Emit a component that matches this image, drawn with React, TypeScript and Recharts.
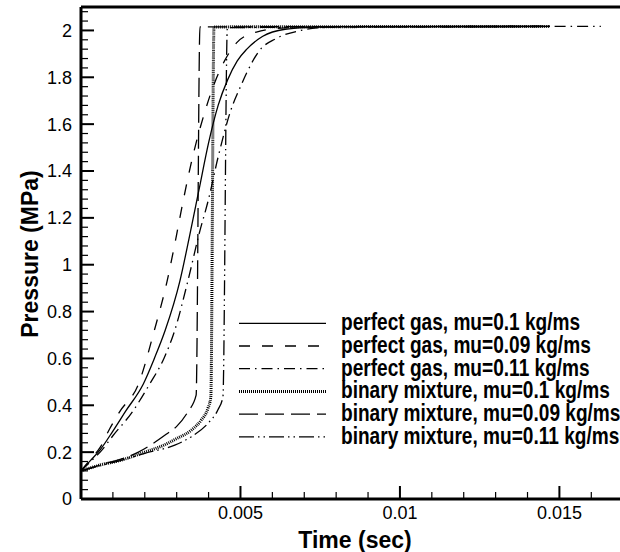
import React from 'react';
import { LineChart, Line, XAxis, YAxis, ReferenceLine } from 'recharts';

// ---- data: [time (s), pressure (MPa)] ----
const perfectGas010: [number, number][] = [
  [0, 0.12], [0.0003, 0.165], [0.0006, 0.21], [0.001, 0.29], [0.0014, 0.375], [0.00195, 0.49],
  [0.0023, 0.6], [0.00264, 0.72], [0.0031, 0.93], [0.0034, 1.12], [0.0037, 1.32], [0.004, 1.52],
  [0.0043, 1.68], [0.0046, 1.79], [0.0049, 1.87], [0.0052, 1.92], [0.0057, 1.975], [0.0064, 2.005],
  [0.0072, 2.013], [0.008, 2.016], [0.0147, 2.017],
];
const perfectGas009: [number, number][] = [
  [0, 0.12], [0.0003, 0.17], [0.0006, 0.22], [0.0009, 0.3], [0.0012, 0.37], [0.0018, 0.49],
  [0.0023, 0.72], [0.0027, 0.93], [0.003, 1.13], [0.0032, 1.27], [0.0035, 1.46], [0.0039, 1.66],
  [0.0042, 1.78], [0.0045, 1.87], [0.0049, 1.95], [0.0055, 1.993], [0.0063, 2.01], [0.0075, 2.016],
  [0.0147, 2.017],
];
const perfectGas011: [number, number][] = [
  [0, 0.12], [0.0003, 0.16], [0.0006, 0.2], [0.001, 0.27], [0.0016, 0.37], [0.00215, 0.49],
  [0.0026, 0.6], [0.00294, 0.72], [0.00335, 0.93], [0.0037, 1.13], [0.004, 1.28], [0.0043, 1.46],
  [0.0047, 1.66], [0.005, 1.76], [0.0052, 1.82], [0.0056, 1.915], [0.0061, 1.964], [0.0069, 2.0],
  [0.0074, 2.011], [0.0085, 2.016], [0.0163, 2.017],
];
const binary010: [number, number][] = [
  [0, 0.12], [0.0006, 0.145], [0.00126, 0.166], [0.002, 0.2], [0.0026, 0.23], [0.003, 0.258],
  [0.00346, 0.294], [0.00377, 0.337], [0.00398, 0.387], [0.00407, 0.435], [0.00417, 2.015],
  [0.0147, 2.017],
];
const binary009: [number, number][] = [
  [0, 0.12], [0.0006, 0.145], [0.0012, 0.168], [0.0018, 0.2], [0.00226, 0.237], [0.00267, 0.276],
  [0.003, 0.31], [0.00335, 0.372], [0.00361, 0.443], [0.00373, 2.015], [0.0147, 2.017],
];
const binary011: [number, number][] = [
  [0, 0.12], [0.0006, 0.143], [0.0012, 0.163], [0.002, 0.195], [0.00294, 0.23], [0.00346, 0.266],
  [0.00398, 0.323], [0.00429, 0.38], [0.00445, 0.436], [0.00459, 2.012], [0.0147, 2.017],
];

const seriesNames = [
  'perfect gas, mu=0.1 kg/ms',
  'perfect gas, mu=0.09 kg/ms',
  'perfect gas, mu=0.11 kg/ms',
  'binary mixture, mu=0.1 kg/ms',
  'binary mixture, mu=0.09 kg/ms',
  'binary mixture, mu=0.11 kg/ms',
];

const xMajorTicks = [0.005, 0.01, 0.015];
const xMinorTicks = [0.001, 0.002, 0.003, 0.004, 0.006, 0.007, 0.008, 0.009, 0.011, 0.012, 0.013, 0.014, 0.016];
const yMajorTicks = [0, 0.2, 0.4, 0.6, 0.8, 1, 1.2, 1.4, 1.6, 1.8, 2];
const yMinorStepCount = 52; // minor ticks every 0.04

const X_DOMAIN: [number, number] = [0, 0.0169];
const Y_DOMAIN: [number, number] = [0, 2.1];

// chart box layout (px)
const W = 620;
const H = 552;
const MARGIN_TOP = 7;
const Y_AXIS_W = 81;
const X_AXIS_H = 53;
const PLOT_L = Y_AXIS_W;
const PLOT_T = MARGIN_TOP;
const PLOT_W = W - Y_AXIS_W;
const PLOT_H = H - MARGIN_TOP - X_AXIS_H;
const sx = (v: number) => PLOT_L + ((v - X_DOMAIN[0]) / (X_DOMAIN[1] - X_DOMAIN[0])) * PLOT_W;
const sy = (v: number) => PLOT_T + PLOT_H - ((v - Y_DOMAIN[0]) / (Y_DOMAIN[1] - Y_DOMAIN[0])) * PLOT_H;

const FONT = '"Liberation Sans", Arial, Helvetica, sans-serif';
const TICK_COLOR = '#000';

const styles = [
  { dash: undefined as string | undefined, width: 1.3 },
  { dash: '11 12', width: 1.3 },
  { dash: '11 5 1.5 5', width: 1.3 },
  { dash: '1 1', width: 3 },
  { dash: '19 7', width: 1.3 },
  { dash: '15 4 1.5 4 1.5 4', width: 1.3 },
];

const seriesData = [perfectGas010, perfectGas009, perfectGas011, binary010, binary009, binary011].map((arr) =>
  arr.map(([x, y]) => ({ x, y }))
);

const yMinorTicks: number[] = [];
for (let i = 1; i <= yMinorStepCount; i++) {
  if (i % 5 !== 0) yMinorTicks.push(+(i * 0.04).toFixed(2));
}

const XTickLabel = (props: any) => {
  const x = Number(props.x);
  const y = Number(props.y);
  const v = props.payload ? props.payload.value : 0;
  return (
    <text x={x} y={y + 20} textAnchor="middle" fontFamily={FONT} fontSize={18} fill="#000" stroke="none">
      {String(v)}
    </text>
  );
};

const YTickLabel = (props: any) => {
  const x = Number(props.x);
  const y = Number(props.y);
  const v = props.payload ? props.payload.value : 0;
  return (
    <text x={x - 9} y={y} dy="0.36em" textAnchor="end" fontFamily={FONT} fontSize={18} fill="#000" stroke="none">
      {String(Math.round(v * 10) / 10)}
    </text>
  );
};

const XTitle = () => (
  <text x={355} y={548} textAnchor="middle" fontFamily={FONT} fontWeight="bold" fontSize={23} fill="#000">
    Time (sec)
  </text>
);

const YTitle = () => (
  <text
    x={0}
    y={0}
    transform="translate(38,254) rotate(-90)"
    textAnchor="middle"
    fontFamily={FONT}
    fontWeight="bold"
    fontSize={23}
    fill="#000"
  >
    Pressure (MPa)
  </text>
);

const Overlay = () => {
  const y0 = 323.3;
  const step = 22.7;
  const bottom = PLOT_T + PLOT_H;
  return (
    <svg width={W} height={H} style={{ position: 'absolute', left: 0, top: 0, pointerEvents: 'none' }}>
      {xMajorTicks.map((v) => (
        <rect key={`xM${v}`} x={sx(v) - 1} y={bottom - 13} width={2} height={13} fill={TICK_COLOR} />
      ))}
      {xMinorTicks.map((v) => (
        <rect key={`xm${v}`} x={sx(v) - 0.6} y={bottom - 7} width={1.2} height={7} fill={TICK_COLOR} />
      ))}
      {yMajorTicks.map((v) => (
        <rect key={`yM${v}`} x={PLOT_L} y={sy(v) - 1} width={13} height={2} fill={TICK_COLOR} />
      ))}
      {yMinorTicks.map((v) => (
        <rect key={`ym${v}`} x={PLOT_L} y={sy(v) - 0.6} width={7} height={1.2} fill={TICK_COLOR} />
      ))}
      {seriesNames.map((name, i) => {
        const y = y0 + i * step;
        return (
          <g key={name}>
            <line
              x1={239}
              x2={326}
              y1={y}
              y2={y}
              stroke="#000"
              strokeWidth={styles[i].width}
              strokeDasharray={styles[i].dash}
            />
            <text
              transform={`translate(341,${y + 7}) scale(0.83,1)`}
              fontFamily={FONT}
              fontWeight="bold"
              fontSize={23}
              fill="#000"
            >
              {name}
            </text>
          </g>
        );
      })}
    </svg>
  );
};

export default function App() {
  return (
    <div style={{ position: 'fixed', left: 0, top: 0, width: W, height: H, overflow: 'hidden', background: '#fff' }}>
      <LineChart width={W} height={H} margin={{ top: MARGIN_TOP, right: 0, bottom: 0, left: 0 }}>
        <XAxis
          type="number"
          dataKey="x"
          domain={X_DOMAIN}
          allowDataOverflow
          ticks={xMajorTicks}
          interval={0}
          tickSize={0}
          tickMargin={0}
          tickLine={false}
          tick={<XTickLabel />}
          axisLine={{ stroke: '#000', strokeWidth: 3 }}
          height={X_AXIS_H}
          label={<XTitle />}
        />
        <YAxis
          type="number"
          domain={Y_DOMAIN}
          allowDataOverflow
          ticks={yMajorTicks}
          interval={0}
          tickSize={0}
          tickMargin={0}
          tickLine={false}
          tick={<YTickLabel />}
          axisLine={{ stroke: '#000', strokeWidth: 3 }}
          width={Y_AXIS_W}
          label={<YTitle />}
        />
        <ReferenceLine y={2.1} stroke="#000" strokeWidth={3} ifOverflow="visible" />
        {seriesData.map((d, i) => (
          <Line
            key={seriesNames[i]}
            name={seriesNames[i]}
            data={d}
            dataKey="y"
            type="monotone"
            stroke="#000"
            strokeWidth={styles[i].width}
            strokeDasharray={styles[i].dash}
            dot={false}
            activeDot={false}
            isAnimationActive={false}
          />
        ))}
      </LineChart>
      <Overlay />
    </div>
  );
}
